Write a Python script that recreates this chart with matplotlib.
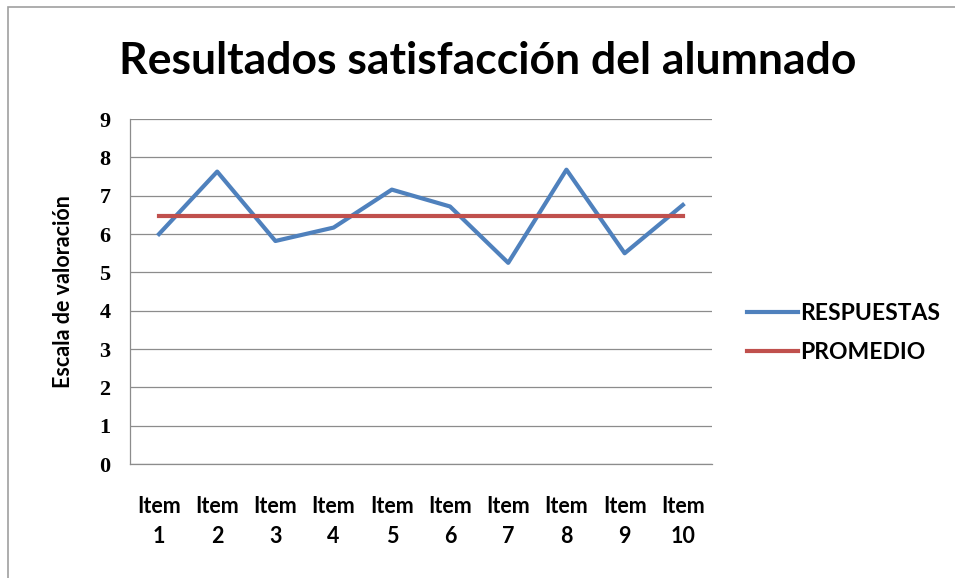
import matplotlib.pyplot as plt
from matplotlib.patches import Rectangle

items = ["Item\n1", "Item\n2", "Item\n3", "Item\n4", "Item\n5",
         "Item\n6", "Item\n7", "Item\n8", "Item\n9", "Item\n10"]
respuestas = [6.0, 7.63, 5.82, 6.17, 7.16, 6.72, 5.25, 7.68, 5.5, 6.76]
promedio = [6.46, 6.46, 6.46, 6.46, 6.46, 6.46, 6.46, 6.46, 6.46, 6.46]

plt.rcParams["font.family"] = ["Lato", "DejaVu Sans"]

fig = plt.figure(figsize=(9.55, 5.78), dpi=100)
ax = fig.add_axes([0.136, 0.197, 0.6095, 0.597])

x = list(range(1, len(items) + 1))
ax.plot(x, respuestas, color="#4F81BD", lw=3.0, label="RESPUESTAS")
ax.plot(x, promedio, color="#C0504D", lw=3.0, label="PROMEDIO")

ax.set_xlim(0.5, 10.5)
ax.set_ylim(0, 9)
ax.set_yticks(range(0, 10))
ax.set_xticks(x)
ax.set_xticklabels(items, fontsize=15.5, fontweight="bold", linespacing=1.5)
for lab in ax.get_yticklabels():
    lab.set_fontfamily("Liberation Serif")
    lab.set_fontsize(16)
    lab.set_fontweight("bold")
ax.tick_params(axis="y", length=0, pad=14)
ax.tick_params(axis="x", length=0, pad=23)
ax.grid(axis="y", color="#8c8c8c", lw=0.9)
ax.set_axisbelow(True)
for s in ["top", "right"]:
    ax.spines[s].set_visible(False)
for s in ["left", "bottom"]:
    ax.spines[s].set_color("#8c8c8c")
    ax.spines[s].set_linewidth(0.9)

ax.set_ylabel("Escala de valoración", fontsize=15.5, fontweight="bold", labelpad=18)

fig.text(0.511, 0.895, "Resultados satisfacción del alumnado", ha="center", va="center",
         fontsize=32, fontweight="bold")

ax.legend(loc="center left", bbox_to_anchor=(1.025, 0.38), frameon=False,
          handlelength=2.2, handletextpad=0.1, labelspacing=0.75,
          prop={"weight": "bold", "size": 16.5})

fig.patches.append(Rectangle((8 / 955, -0.1), 1.2, 1 - 7 / 578 + 0.1, transform=fig.transFigure,
                             fill=False, edgecolor="#a0a0a0", lw=1.2))

fig.savefig("out.png", dpi=100)
